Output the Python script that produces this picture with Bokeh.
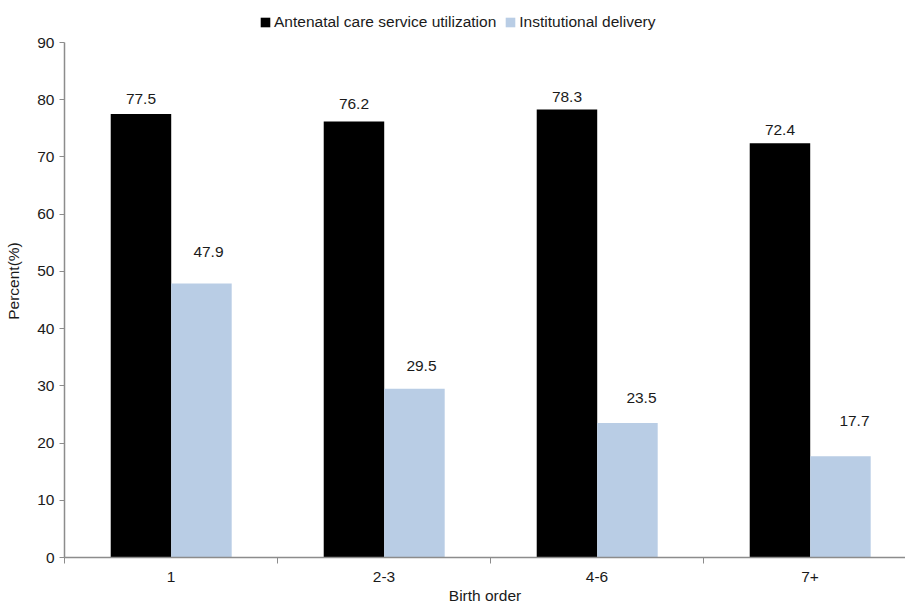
from bokeh.plotting import figure
from bokeh.models import Range1d, FixedTicker, Legend, LegendItem, ColumnDataSource
from bokeh.core.properties import value
from bokeh.embed import file_html
from bokeh.resources import INLINE

categories = ["1", "2-3", "4-6", "7+"]
anc = [77.5, 76.2, 78.3, 72.4]
inst = [47.9, 29.5, 23.5, 17.7]
series_names = ["Antenatal care service utilization", "Institutional delivery"]

# label placement tweaks (pixels)
anc_label_dy = [15, 17, 12, 13]
inst_label_dy = [31, 23, 25, 35]
anc_label_dx = [0, 0, 0, 0]
inst_label_dx = [7, 7, 14, 14]

FONT = "Liberation Sans"
FS = "15.5px"
BLACK = "#000000"
BLUE = "#b9cde5"
GREY = "#8c8c8c"
TXT = "#1a1a1a"

W, H = 905, 609
ML, MT, MB = 64, 4, 52
Y_TOP_PX = 42          # page y of the 90 tick
FRAME_H = H - MT - MB
AXIS_H = FRAME_H - (Y_TOP_PX - MT)
GROUP_PX = 213.0
frame_w = W - ML
x_end = frame_w / GROUP_PX
ppu = AXIS_H / 90.0
y_end = 90 + (Y_TOP_PX - MT) / ppu

p = figure(width=W, height=H, output_backend="svg", toolbar_location=None,
           x_range=Range1d(0, x_end), y_range=Range1d(0, y_end),
           min_border_left=ML, min_border_top=MT, min_border_right=0,
           min_border_bottom=MB)
p.outline_line_color = None
p.grid.visible = False

bw = 0.284
xa = [i + 0.359 for i in range(len(categories))]
xb = [i + 0.643 for i in range(len(categories))]
ra = p.vbar(x=xa, top=anc, width=bw, bottom=0, fill_color=BLACK, line_color=None)
rb = p.vbar(x=xb, top=inst, width=bw, bottom=0, fill_color=BLUE, line_color=None)

lx = [x + dx / GROUP_PX for x, dx in zip(xa, anc_label_dx)] + [x + dx / GROUP_PX for x, dx in zip(xb, inst_label_dx)]
ly = [v + d / ppu for v, d in zip(anc, anc_label_dy)] + [v + d / ppu for v, d in zip(inst, inst_label_dy)]
lt = [f"{v:.1f}" for v in anc] + [f"{v:.1f}" for v in inst]
src = ColumnDataSource(dict(x=lx, y=ly, t=lt))
p.text(x="x", y="y", text="t", source=src, text_align="center", text_baseline="middle",
       text_font=value(FONT), text_font_size=FS, text_color=TXT)

# y axis
ya = p.yaxis[0]
ya.bounds = (0, 90)
ya.ticker = FixedTicker(ticks=list(range(0, 91, 10)))
ya.axis_label = "Percent(%)"
ya.axis_label_text_font = FONT
ya.axis_label_text_font_size = FS
ya.axis_label_text_font_style = "normal"
ya.axis_label_text_color = TXT
ya.axis_label_standoff = 12
ya.major_label_text_font = FONT
ya.major_label_text_font_size = FS
ya.major_label_text_color = TXT
ya.major_label_standoff = 5
ya.major_tick_out = 5
ya.major_tick_in = 0
ya.minor_tick_out = 0
ya.minor_tick_in = 0
ya.axis_line_color = GREY
ya.axis_line_width = 1.5
ya.major_tick_line_color = GREY

# x axis
xax = p.xaxis[0]
xax.ticker = FixedTicker(ticks=[i + 0.5 for i in range(len(categories))],
                         minor_ticks=list(range(len(categories) + 1)))
xax.major_label_overrides = {i + 0.5: c for i, c in enumerate(categories)}
xax.axis_label = "Birth order"
xax.axis_label_text_font = FONT
xax.axis_label_text_font_size = FS
xax.axis_label_text_font_style = "normal"
xax.axis_label_text_color = TXT
xax.axis_label_standoff = 2
xax.major_label_text_font = FONT
xax.major_label_text_font_size = FS
xax.major_label_text_color = TXT
xax.major_label_standoff = 8
xax.major_tick_out = 0
xax.major_tick_in = 0
xax.minor_tick_out = 6
xax.minor_tick_in = 0
xax.minor_tick_line_color = GREY
xax.axis_line_color = GREY
xax.axis_line_width = 1.5

legend = Legend(items=[LegendItem(label=series_names[0], renderers=[ra]),
                       LegendItem(label=series_names[1], renderers=[rb])],
                orientation="horizontal", location=(195, FRAME_H - (31 - MT)),
                glyph_width=12, glyph_height=12, label_standoff=3, spacing=8,
                padding=0, margin=0, label_height=14,
                label_text_font=FONT, label_text_font_size=FS, label_text_color=TXT,
                border_line_color=None, background_fill_alpha=0)
p.add_layout(legend, "center")

open("out.html", "w").write(file_html(p, INLINE))
